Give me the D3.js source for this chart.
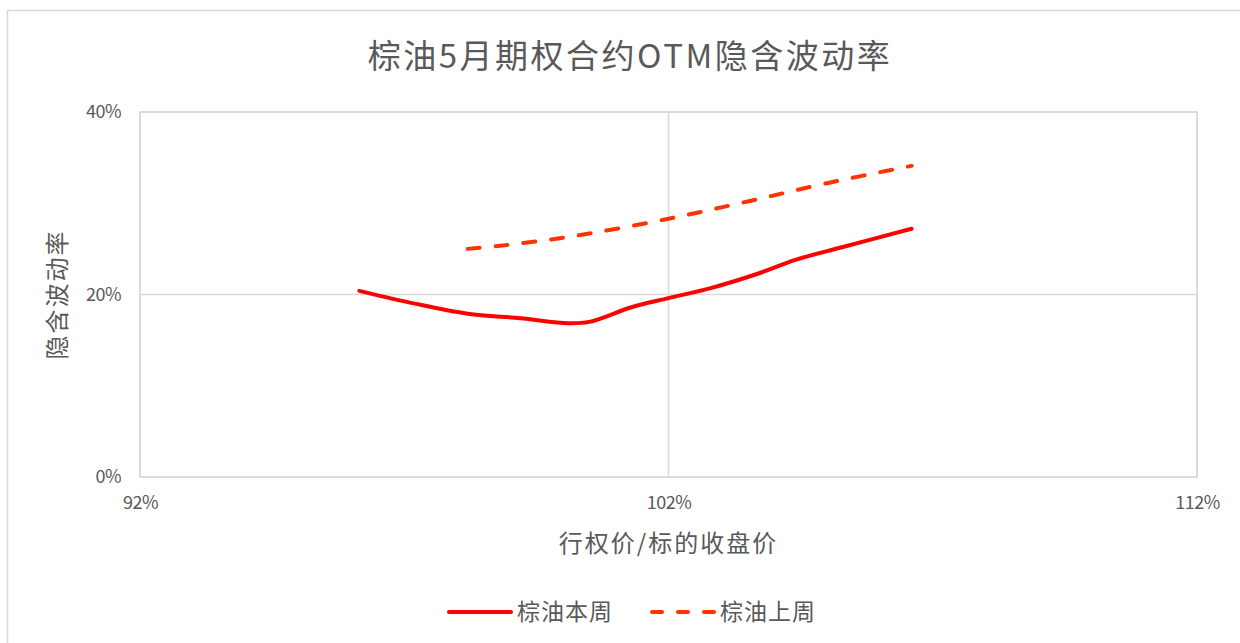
<!DOCTYPE html>
<html>
<head>
<meta charset="utf-8">
<script src="https://cdn.jsdelivr.net/npm/d3@7"></script>
<style>
  body { margin: 0; background: #fff; }
  .container { width: 1240px; height: 643px; }
  text { font-family: "Noto Sans CJK SC", "Noto Sans", sans-serif; fill: #595959; }
</style>
</head>
<body>
<div class="container"></div>
<script>
// strike / underlying close (%), implied vol (%)
const thisWeekX = [96.15, 97.2, 98.2, 99.2, 100.1, 100.5, 101.3, 102.0, 102.8, 103.7, 104.4, 105.3, 106.6]
const thisWeekY = [20.4, 19.0, 17.9, 17.4, 16.85, 17.0, 18.6, 19.6, 20.7, 22.3, 23.8, 25.2, 27.2]
const lastWeekX = [98.2, 98.9, 100.1, 102.0, 103.5, 105.0, 106.6]
const lastWeekY = [25.0, 25.4, 26.3, 28.3, 30.2, 32.2, 34.1]
const xTicks = [92, 102, 112]
const yTicks = [0, 20, 40]
const seriesNames = ['棕油本周', '棕油上周']

const container = document.querySelector('.container')
const margin = { top: 112, right: 43, bottom: 166, left: 140 }
const width = 1240 - margin.left - margin.right
const height = 643 - margin.top - margin.bottom

const root = d3.select(container)
  .append('svg')
  .attr('width', 1240)
  .attr('height', 643)

// outer chart border
root.append('rect')
  .attr('x', 7.5).attr('y', 10.5)
  .attr('width', 1260).attr('height', 700)
  .attr('fill', 'none')
  .attr('stroke', '#d9d9d9')
  .attr('stroke-width', 1.5)

root.append('text')
  .attr('x', 630)
  .attr('y', 68)
  .attr('text-anchor', 'middle')
  .attr('font-size', '33px')
  .attr('letter-spacing', '2.5px')
  .text('棕油5月期权合约OTM隐含波动率')

const svg = root.append('g')
  .attr('transform', `translate(${margin.left},${margin.top})`)

const x = d3.scaleLinear().domain([92, 112]).range([0, width])
const y = d3.scaleLinear().domain([0, 40]).range([height, 0])

// plot area frame
svg.append('rect')
  .attr('width', width).attr('height', height)
  .attr('fill', 'none')
  .attr('stroke', '#d9d9d9')
  .attr('stroke-width', 1.5)

svg.append('g')
  .selectAll('line')
  .data(yTicks)
  .enter()
  .append('line')
  .attr('x1', 0).attr('x2', width)
  .attr('y1', d => y(d)).attr('y2', d => y(d))
  .attr('stroke', '#d9d9d9')
  .attr('stroke-width', 1.5)

svg.append('g')
  .selectAll('line')
  .data(xTicks)
  .enter()
  .append('line')
  .attr('x1', d => x(d)).attr('x2', d => x(d))
  .attr('y1', 0).attr('y2', height)
  .attr('stroke', '#d9d9d9')
  .attr('stroke-width', 1.5)

const yAxis = svg.append('g')
  .call(d3.axisLeft(y).tickValues(yTicks).tickFormat(d => d + '%').tickSize(0).tickPadding(19))
yAxis.select('.domain').remove()
yAxis.selectAll('text').attr('font-size', '18px').attr('fill', '#595959')
  .attr('letter-spacing', '-0.5px')
  .attr('font-family', '"Noto Sans CJK SC", sans-serif')

const xAxis = svg.append('g')
  .attr('transform', `translate(0,${height})`)
  .call(d3.axisBottom(x).tickValues(xTicks).tickFormat(d => d + '%').tickSize(0).tickPadding(19))
xAxis.select('.domain').remove()
xAxis.selectAll('text').attr('font-size', '18px').attr('fill', '#595959')
  .attr('letter-spacing', '-0.5px')
  .attr('font-family', '"Noto Sans CJK SC", sans-serif')

svg.append('text')
  .attr('x', x(102))
  .attr('y', height + 75)
  .attr('text-anchor', 'middle')
  .attr('font-size', '24px')
  .attr('letter-spacing', '2px')
  .text('行权价/标的收盘价')

svg.append('text')
  .attr('transform', `translate(${-74},${y(20)}) rotate(-90)`)
  .attr('text-anchor', 'middle')
  .attr('font-size', '24px')
  .attr('letter-spacing', '2px')
  .text('隐含波动率')

const line = d3.line()
  .x(d => x(d[0]))
  .y(d => y(d[1]))
  .curve(d3.curveCatmullRom.alpha(0.5))

svg.append('path')
  .datum(d3.zip(thisWeekX, thisWeekY))
  .attr('d', line)
  .attr('fill', 'none')
  .attr('stroke', '#ff0000')
  .attr('stroke-width', 4)
  .attr('stroke-linecap', 'round')

svg.append('path')
  .datum(d3.zip(lastWeekX, lastWeekY))
  .attr('d', line)
  .attr('fill', 'none')
  .attr('stroke', '#ff3300')
  .attr('stroke-width', 4)
  .attr('stroke-dasharray', '12,16')
  .attr('stroke-linecap', 'round')

// legend
const legend = root.append('g').attr('transform', 'translate(447,612)')
const styles = [
  { color: '#ff0000', dash: null },
  { color: '#ff3300', dash: '10,16' }
]
seriesNames.forEach((name, i) => {
  const g = legend.append('g').attr('transform', `translate(${i * 203},0)`)
  g.append('line')
    .attr('x1', 2).attr('x2', 64)
    .attr('y1', 0).attr('y2', 0)
    .attr('stroke', styles[i].color)
    .attr('stroke-width', 4)
    .attr('stroke-dasharray', styles[i].dash)
    .attr('stroke-linecap', 'round')
  g.append('text')
    .attr('x', 70)
    .attr('y', 8)
    .attr('font-size', '23px')
    .attr('letter-spacing', '1px')
    .text(name)
})
</script>
</body>
</html>
